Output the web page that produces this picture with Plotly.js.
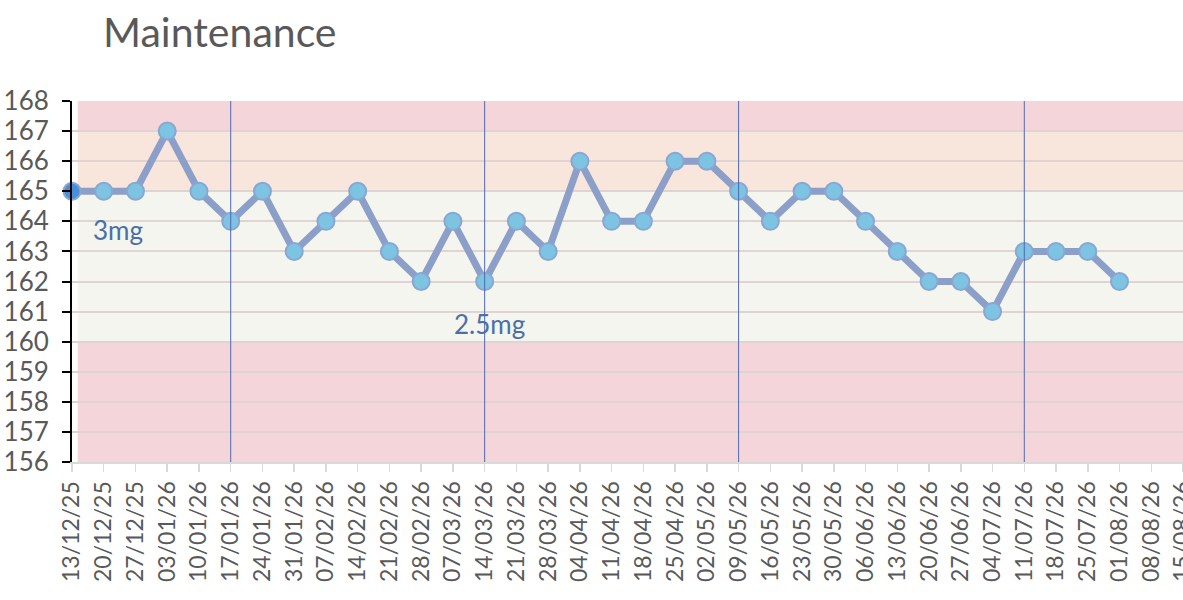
<!DOCTYPE html>
<html>
<head>
<meta charset="utf-8">
<script src="https://cdn.plot.ly/plotly-3.0.1.min.js"></script>
<style>
  html, body { margin: 0; padding: 0; background: #ffffff; overflow: hidden; }
  #chart { width: 1183px; height: 600px; }
</style>
</head>
<body>
<div id="chart"></div>
<script>
// weekly weigh-in dates (axis runs two weeks past the last reading)
const dates = [
  '13/12/25', '20/12/25', '27/12/25', '03/01/26', '10/01/26', '17/01/26',
  '24/01/26', '31/01/26', '07/02/26', '14/02/26', '21/02/26', '28/02/26',
  '07/03/26', '14/03/26', '21/03/26', '28/03/26', '04/04/26', '11/04/26',
  '18/04/26', '25/04/26', '02/05/26', '09/05/26', '16/05/26', '23/05/26',
  '30/05/26', '06/06/26', '13/06/26', '20/06/26', '27/06/26', '04/07/26',
  '11/07/26', '18/07/26', '25/07/26', '01/08/26', '08/08/26', '15/08/26'
];

const weights = [
  165, 165, 165, 167, 165, 164, 165, 163, 164, 165, 163, 162,
  164, 162, 164, 163, 166, 164, 164, 166, 166, 165, 164, 165,
  165, 164, 163, 162, 162, 161, 163, 163, 163, 162
];

// dose change markers
const doseChanges = ['17/01/26', '14/03/26', '09/05/26', '11/07/26'];
const doseLabels = [
  { text: '3mg', x: 1.45, y: 163.7 },
  { text: '2.5mg', x: 13.15, y: 160.6 }
];

// target bands [from, to, colour]
const bands = [
  [156, 160, '#f4d6da'],
  [160, 165, '#f3f5ee'],
  [165, 167, '#f8e5db'],
  [167, 168, '#f4d6da']
];

const FONT = 'Lato, "Open Sans", sans-serif';

/* ── Shapes ─────────────────────────────────────────────────────────────── */

const shapes = bands.map(b => ({
  type: 'rect', layer: 'below',
  xref: 'x', yref: 'y',
  x0: 0.18, x1: dates.length - 1,
  y0: b[0], y1: b[1],
  fillcolor: b[2], line: { width: 0 }
}));

doseChanges.forEach(d => {
  shapes.push({
    type: 'line', layer: 'above',
    xref: 'x', yref: 'y',
    x0: d, x1: d, y0: 156, y1: 168,
    line: { color: '#5068b0', width: 1 }
  });
});

/* ── Trace ──────────────────────────────────────────────────────────────── */

const trace = {
  type: 'scatter',
  mode: 'lines+markers',
  x: dates.slice(0, weights.length),
  y: weights,
  line: { color: '#8b9fc8', width: 7 },
  marker: {
    size: 17,
    color: weights.map((v, i) => i === 0 ? '#4b8fd6' : '#7cc4e2'),
    line: { color: '#8aa6d2', width: 2 }
  },
  cliponaxis: false,
  hoverinfo: 'x+y',
  showlegend: false
};

const layout = {
  width: 1183,
  height: 600,
  paper_bgcolor: '#ffffff',
  plot_bgcolor: 'rgba(0,0,0,0)',
  margin: { l: 72, r: 0, t: 101, b: 138 },
  title: {
    text: 'Maintenance',
    x: 103 / 1183, xanchor: 'left',
    y: 1 - 33 / 600, yanchor: 'middle',
    font: { family: FONT, size: 41, color: '#595959' }
  },
  font: { family: FONT, color: '#595959' },
  xaxis: {
    type: 'category',
    categoryorder: 'array',
    categoryarray: dates,
    range: [0, dates.length - 1],
    tickangle: -90,
    tickfont: { family: FONT, size: 23, color: '#595959' },
    ticks: 'outside', ticklen: 8, tickcolor: '#d9d9d9', tickwidth: 1.5,
    showline: true, linecolor: '#d9d9d9', linewidth: 2,
    showgrid: false, zeroline: false,
    fixedrange: true
  },
  yaxis: {
    range: [156, 168],
    dtick: 1,
    tickfont: { family: FONT, size: 26, color: '#595959' },
    ticks: 'outside', ticklen: 8, tickcolor: '#000000', tickwidth: 2,
    ticklabelstandoff: 8,
    showline: true, linecolor: '#000000', linewidth: 2,
    showgrid: true, gridcolor: '#e0d4d2', gridwidth: 2,
    zeroline: false,
    fixedrange: true
  },
  shapes: shapes,
  annotations: doseLabels.map(a => ({
    text: a.text, x: a.x, y: a.y, xref: 'x', yref: 'y',
    showarrow: false,
    font: { family: FONT, size: 26, color: '#4a6fa8' }
  }))
};

Plotly.newPlot('chart', [trace], layout, { staticPlot: true, displayModeBar: false });
</script>
</body>
</html>
